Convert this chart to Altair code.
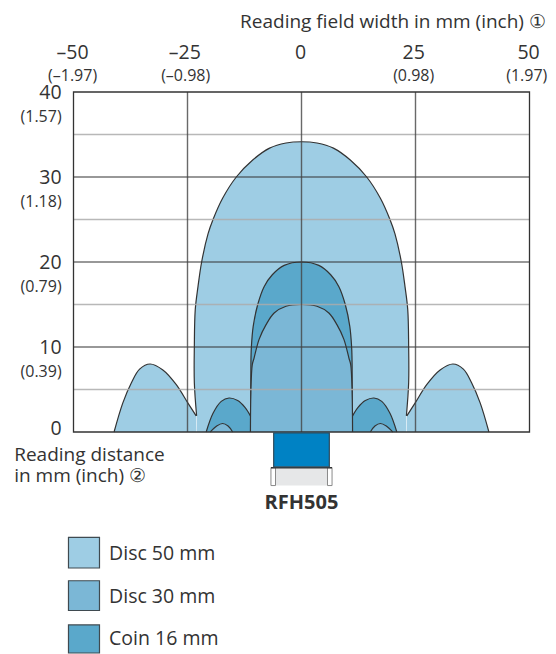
import altair as alt
import pandas as pd

# ---- chart values (left half of each symmetric field, millimetres) ----
body50_x = [-23.0, -23.5, -23.5, -23.3, -22.7, -21.9, -20.5, -19.4, -17.3, -14.3, -10.7, -7.0, -3.4, 0.0]
body50_y = [1.9, 5.8, 10.1, 14.4, 17.1, 20.0, 23.3, 25.0, 27.5, 30.0, 32.0, 33.4, 34.0, 34.15]
lobe50_x = [-41.1, -39.2, -37.3, -35.5, -33.2, -30.4, -27.5, -24.9, -23.1]
lobe50_y = [0.0, 3.4, 5.8, 7.4, 8.0, 7.3, 5.6, 3.4, 1.9]
body16_x = [-11.1, -11.1, -11.0, -10.6, -9.6, -8.2, -6.4, -3.8, 0.0]
body16_y = [0.0, 7.9, 9.9, 12.4, 15.0, 17.1, 18.5, 19.6, 20.0]
lobe16_x = [-20.9, -19.4, -17.6, -15.9, -14.0, -12.4, -11.2]
lobe16_y = [0.0, 2.2, 3.6, 4.0, 3.7, 2.9, 1.9]
body30_x = [-11.2, -11.1, -10.8, -10.4, -9.3, -7.8, -6.0, -3.4, 0.0]
body30_y = [0.0, 4.6, 7.9, 8.7, 10.9, 12.6, 14.0, 14.8, 15.0]
lobe30_x = [-20.0, -18.6, -17.3, -16.1, -15.1]
lobe30_y = [0.0, 0.7, 1.0, 0.7, 0.0]

series_names = ["Disc 50 mm", "Disc 30 mm", "Coin 16 mm"]
series_colors = ["#9ECDE4", "#7BB7D6", "#5AA8CB"]

x_ticks = [-50, -25, 0, 25, 50]
x_mm = ["–50", "–25", "0", "25", "50"]
x_mm_pos = [-50.2, -25.6, -0.2, 24.6, 49.8]
x_inch = ["(–1.97)", "(–0.98)", "", "(0.98)", "(1.97)"]
x_inch_pos = [-50.2, -25.4, 0, 24.6, 49.4]
y_ticks = [40, 30, 20, 10, 0]
y_inch = ["(1.57)", "(1.18)", "(0.79)", "(0.39)", ""]
minor_y = [5, 15, 25, 35]
major_y = [10, 20, 30]
inner_x = [-25, 0, 25]

FONT = "Open Sans"
INK = "#333333"
xs = alt.Scale(domain=[-50, 50], nice=False, zero=False)
ys = alt.Scale(domain=[0, 40], nice=False, zero=False)


def X(f="x"):
    return alt.X(f, type="quantitative", scale=xs, axis=None)


def Y(f="y"):
    return alt.Y(f, type="quantitative", scale=ys, axis=None)


def outline(xv, yv, mirror_whole):
    if mirror_whole:
        px = list(xv) + [-v for v in reversed(xv[:-1])]
        py = list(yv) + list(reversed(yv[:-1]))
        return pd.DataFrame({"i": range(len(px)), "x": px, "y": py})
    return pd.DataFrame({"i": range(len(xv)), "x": xv, "y": yv})


def stroke(df):
    return alt.Chart(df).mark_line(color=INK, strokeWidth=1.2, interpolate="catmull-rom").encode(
        x=X(), y=Y(), order=alt.Order("i:Q"))


def lobe(xv, yv, color):
    out = []
    for sign in (1, -1):
        df = outline([sign * v for v in xv], yv, False)
        df["base"] = 0
        out.append(alt.Chart(df).mark_area(color=color, interpolate="catmull-rom").encode(
            x=X(), y=Y(), y2="base:Q"))
        out.append(stroke(df))
    return out


def body(xv, yv, color):
    """Symmetric central field: filled across from left edge to right edge at each distance."""
    low = min(yv)
    rows = {"y": list(yv), "l": list(xv), "r": [-v for v in xv]}
    if low > 0:
        rows = {"y": [0.0] + rows["y"], "l": [xv[0]] + rows["l"], "r": [-xv[0]] + rows["r"]}
    fill = alt.Chart(pd.DataFrame(rows)).mark_area(
        color=color, orient="horizontal", interpolate="catmull-rom"
    ).encode(y=Y(), x=X("l"), x2="r:Q")
    return [fill, stroke(outline(xv, yv, True))]


def text(values, xvals, yvals, size, align="center", dy=0, weight="normal", color="#333333"):
    df = pd.DataFrame({"t": values, "x": xvals, "y": yvals})
    df = df[df.t != ""]
    return alt.Chart(df).mark_text(
        font=FONT, fontSize=size, align=align, baseline="middle", dy=dy,
        fontWeight=weight, color=color, clip=False,
    ).encode(x=X(), y=Y(), text="t:N")


def box(x0, x1, y0, y1, fill, stroke_c, sw=1.2):
    df = pd.DataFrame({"x": [x0], "x2": [x1], "y": [y0], "y2": [y1]})
    return alt.Chart(df).mark_rect(fill=fill, stroke=stroke_c, strokeWidth=sw, clip=False).encode(
        x=X(), x2="x2:Q", y=Y(), y2="y2:Q")


layers = []
layers += body(body50_x, body50_y, series_colors[0])
layers += lobe(lobe50_x, lobe50_y, series_colors[0])
layers += lobe(lobe16_x, lobe16_y, series_colors[2])
layers += lobe(lobe30_x, lobe30_y, series_colors[1])
layers += body(body16_x, body16_y, series_colors[2])
layers += body(body30_x, body30_y, series_colors[1])

# grid
minor = alt.Chart(pd.DataFrame({"y": minor_y, "a": -50, "b": 50})).mark_rule(
    color="#ABABAB", strokeWidth=1.5, opacity=0.85).encode(x=X("a"), x2="b:Q", y=Y())
major = alt.Chart(pd.DataFrame({"y": major_y, "a": -50, "b": 50})).mark_rule(
    color=INK, strokeWidth=1.2).encode(x=X("a"), x2="b:Q", y=Y())
vert = alt.Chart(pd.DataFrame({"x": inner_x, "a": 0, "b": 40})).mark_rule(
    color="#444444", strokeWidth=1.4, opacity=0.8).encode(x=X(), y=Y("a"), y2="b:Q")
layers += [minor, major, vert]
layers.append(box(-50, 50, 0, 40, "transparent", INK, 1.3))

# reader
layers.append(box(-6.7, 6.7, -4.2, -6.3, "#E6E7E8", "#FFFFFF", 0))
layers.append(box(-5.7, -6.7, -4.2, -6.3, "#FFFFFF", "#8A8A8A", 1))
layers.append(box(5.7, 6.7, -4.2, -6.3, "#FFFFFF", "#8A8A8A", 1))
layers.append(alt.Chart(pd.DataFrame({"a": [-6.7], "b": [6.7], "y": [-4.2]})).mark_rule(
    color=INK, strokeWidth=1.4, clip=False).encode(x=X("a"), x2="b:Q", y=Y()))
layers.append(box(-6.1, 6.1, -0.1, -4.1, "#0082C4", "#2F4A5A", 1.2))

# tick labels
layers.append(text(x_mm, x_mm_pos, [40] * 5, 19.5, dy=-39))
layers.append(text(x_inch, x_inch_pos, [40] * 5, 16, dy=-16.5))
layers.append(text([str(v) for v in y_ticks[:4]], [-52.6] * 4, y_ticks[:4], 19.5, "right", dy=1))
layers.append(text(["0"], [-52.6], [0], 19.5, "right", dy=-3))
layers.append(text(y_inch, [-52.6] * 5, y_ticks, 16, "right", dy=25))

# titles
layers.append(text(["Reading field width in mm (inch) ①"], [53.6], [48.2], 19, "right"))
layers.append(text(["Reading distance"], [-63], [-2.7], 19, "left"))
layers.append(text(["in mm (inch) ②"], [-63], [-5.2], 19, "left"))
layers.append(text(["RFH505"], [0], [-8.35], 20, weight="bold"))

# legend
swatch_y0 = [-12.4, -17.5, -22.7]
swatch_y1 = [-16.0, -21.0, -26.0]
for c, a, b in zip(series_colors, swatch_y0, swatch_y1):
    layers.append(box(-51.1, -44.3, a, b, c, "#3F4A50", 1.2))
layers.append(text(series_names, [-42.2] * 3, [-14.3, -19.4, -24.4], 19.5, "left"))

chart = alt.layer(*layers).properties(
    width=456,
    height=340,
    autosize=alt.AutoSizeParams(type="none"),
    padding={"left": 65.5, "top": 84, "right": 18.5, "bottom": 222},
).configure_view(stroke=None)

chart.save("out.html", embed_options={"renderer": "svg", "actions": False})
